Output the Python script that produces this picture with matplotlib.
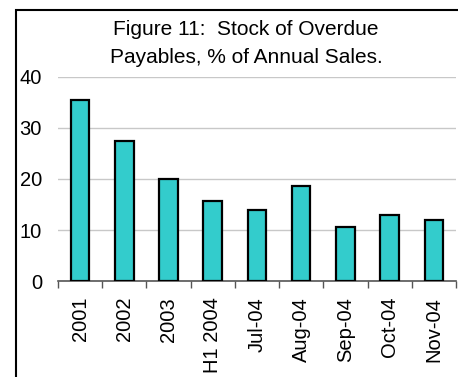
import matplotlib
matplotlib.use('Agg')
import matplotlib.pyplot as plt
from matplotlib.patches import Rectangle
import numpy as np

plt.rcParams['font.family'] = ['Liberation Sans', 'DejaVu Sans']

# overdue payables, % of annual sales
periods = ['2001', '2002', '2003', 'H1 2004', 'Jul-04', 'Aug-04', 'Sep-04', 'Oct-04', 'Nov-04']
values = [35.5, 27.5, 20.0, 15.6, 13.9, 18.7, 10.6, 12.9, 12.0]
yticks = [0, 10, 20, 30, 40]
title_lines = ['Figure 11:  Stock of Overdue', 'Payables, % of Annual Sales.']

fig = plt.figure(figsize=(4.58, 3.77), dpi=100)
ax = fig.add_axes([0.1266, 0.2546, 0.869, 0.5412])

x = np.arange(len(periods))
ax.bar(x, values, width=0.42, color='#33CCCC', edgecolor='black', linewidth=1.6, zorder=3)

ax.set_xlim(-0.5, len(periods) - 0.5)
ax.set_ylim(0, 40)
ax.set_yticks(yticks)
ax.set_yticklabels([str(v) for v in yticks], fontsize=14.5)
ax.tick_params(axis='y', length=0, pad=11.5)
ax.yaxis.grid(True, color='#c8c8c8', linewidth=1.0, zorder=0)

# tick marks between categories, labels under the bars
ax.set_xticks(np.arange(len(periods) + 1) - 0.5)
ax.set_xticklabels([])
ax.tick_params(axis='x', which='major', length=5, width=1, color='#555555', direction='out')
ax.set_xticks(x, minor=True)
ax.set_xticklabels(periods, minor=True, rotation=90, fontsize=14.5)
ax.tick_params(axis='x', which='minor', length=0, pad=11.5)

for s in ['left', 'right', 'top']:
    ax.spines[s].set_visible(False)
ax.spines['bottom'].set_color('#555555')
ax.spines['bottom'].set_linewidth(1.2)

fig.text(0.537, 1 - 35 / 377, title_lines[0], ha='center', va='baseline', fontsize=15)
fig.text(0.537, 1 - 63 / 377, title_lines[1], ha='center', va='baseline', fontsize=15)

# frame around the chart
fig.patches.append(Rectangle((16 / 458, -0.1), 1.2, 1 - 10 / 377 + 0.1,
                             transform=fig.transFigure, fill=False,
                             edgecolor='black', linewidth=1.5))

fig.savefig('out.png', dpi=100)
